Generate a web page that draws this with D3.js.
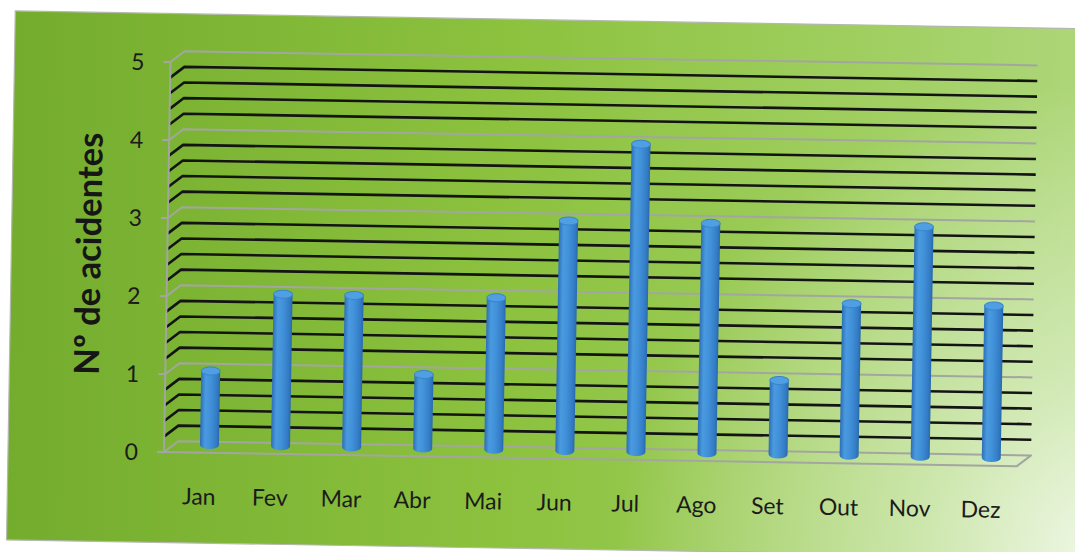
<!DOCTYPE html>
<html>
<head>
<meta charset="utf-8">
<script src="https://cdn.jsdelivr.net/npm/d3@7"></script>
<style>
  html, body { margin: 0; padding: 0; background: #ffffff; }
  svg { display: block; }
</style>
</head>
<body>
<svg id="chart" width="1075" height="552"></svg>
<script>
// Monthly accident counts
const months = ["Jan", "Fev", "Mar", "Abr", "Mai", "Jun", "Jul", "Ago", "Set", "Out", "Nov", "Dez"];
const accidents = [1, 2, 2, 1, 2, 3, 4, 3, 1, 2, 3, 2];
const yTicks = [0, 1, 2, 3, 4, 5];
const minorStep = 0.2;
const yTitle = "Nº de acidentes";

const svg = d3.select("#chart");
const defs = svg.append("defs");

// Panel fill: green, lightening to the right and bottom-right
const bgLin = defs.append("linearGradient").attr("id", "bgLin")
  .attr("x1", 0).attr("y1", 0).attr("x2", 1).attr("y2", 0);
[[0, "#74ac2e"], [0.45, "#8cc23e"], [0.8, "#a2d064"], [1, "#b0d87e"]]
  .forEach(([o, c]) => bgLin.append("stop").attr("offset", o).attr("stop-color", c));

const bgGlow = defs.append("radialGradient").attr("id", "bgGlow")
  .attr("cx", 1.0).attr("cy", 1.0).attr("r", 0.45)
  .attr("gradientTransform", "translate(1,1) scale(1,2.0) translate(-1,-1)");
[[0, "#ffffff", 0.85], [0.4, "#f4fbef", 0.5], [1, "#ffffff", 0]]
  .forEach(([o, c, a]) => bgGlow.append("stop").attr("offset", o).attr("stop-color", c).attr("stop-opacity", a));

// Cylinder shading
const barGrad = defs.append("linearGradient").attr("id", "barGrad")
  .attr("x1", 0).attr("y1", 0).attr("x2", 1).attr("y2", 0);
[[0, "#2d6fb6"], [0.25, "#4a9ae0"], [0.5, "#4292da"], [0.85, "#337cc5"], [1, "#2a68ab"]]
  .forEach(([o, c]) => barGrad.append("stop").attr("offset", o).attr("stop-color", c));

// Whole chart sits slightly tilted; origin at the front-left corner of the floor
const g = svg.append("g").attr("transform", "translate(164,452) rotate(0.95)");

// Chart panel
const panel = { x: -156, y: -438.5, w: 1110, h: 529 };
g.append("rect").attr("x", panel.x).attr("y", panel.y).attr("width", panel.w).attr("height", panel.h)
  .attr("fill", "url(#bgLin)");
g.append("rect").attr("x", panel.x).attr("y", panel.y).attr("width", panel.w).attr("height", panel.h)
  .attr("fill", "url(#bgGlow)").attr("stroke", "#b4b8ae").attr("stroke-width", 1.2);

// Scales
const floorW = 853;
const depth = { dx: 14, dy: -11 };
const x = d3.scaleBand().domain(months).range([0, floorW]);
const y = d3.scaleLinear().domain([0, 5]).range([0, -390]);

// Gridlines: minor (black) every 0.2, major (gray) at each integer
const minorVals = d3.range(0, 5 + 1e-9, minorStep)
  .map(v => Math.round(v * 10) / 10)
  .filter(v => !yTicks.includes(v));

const backRight = floorW + depth.dx;
const gridPath = v => {
  const yf = y(v);
  return `M0,${yf} L${depth.dx},${yf + depth.dy} L${backRight},${yf + depth.dy}`;
};

const grid = g.append("g").attr("fill", "none").attr("stroke-linejoin", "round");
grid.selectAll("path.minor").data(minorVals).join("path").attr("class", "minor")
  .attr("d", gridPath).attr("stroke", "#141414").attr("stroke-width", 2.6);
grid.selectAll("path.major").data(yTicks.filter(v => v > 0)).join("path").attr("class", "major")
  .attr("d", gridPath).attr("stroke", "#a3a6a0").attr("stroke-width", 2);

// Floor outline
grid.append("path")
  .attr("d", `M0,0 L${floorW},0 L${backRight},${depth.dy} L${depth.dx},${depth.dy} Z`)
  .attr("stroke", "#a3a6a0").attr("stroke-width", 2);

// Vertical axis line and tick marks
grid.append("line").attr("x1", 0).attr("x2", 0).attr("y1", y(0)).attr("y2", y(5))
  .attr("stroke", "#a3a6a0").attr("stroke-width", 2);
grid.selectAll("line.tick").data(yTicks).join("line").attr("class", "tick")
  .attr("x1", -7).attr("x2", 0).attr("y1", d => y(d)).attr("y2", d => y(d))
  .attr("stroke", "#a3a6a0").attr("stroke-width", 2);

// Cylinders (base sits inside the floor depth; the top cap is seen from slightly above)
const barW = 19, ry = 4;
const baseOff = { dx: 9.8, dy: -7.7 };
const capDrop = 4;
const bars = g.append("g").selectAll("g.bar").data(months.map((m, i) => ({ m, v: accidents[i] })))
  .join("g").attr("class", "bar");

bars.append("path")
  .attr("d", d => {
    const cx = x(d.m) + x.bandwidth() / 2 + baseOff.dx;
    const yb = baseOff.dy;
    const yt = baseOff.dy + y(d.v) + capDrop;
    const l = cx - barW / 2, r = cx + barW / 2;
    return `M${l},${yt} L${l},${yb} A${barW / 2},${ry} 0 0 0 ${r},${yb} L${r},${yt} Z`;
  })
  .attr("fill", "url(#barGrad)");

bars.append("ellipse")
  .attr("cx", d => x(d.m) + x.bandwidth() / 2 + baseOff.dx)
  .attr("cy", d => baseOff.dy + y(d.v) + capDrop)
  .attr("rx", barW / 2).attr("ry", ry)
  .attr("fill", "#519fe3").attr("stroke", "#3a84cc").attr("stroke-width", 1);

// Y tick labels
const font = "Lato, 'Open Sans', sans-serif";
g.append("g").selectAll("text").data(yTicks).join("text")
  .attr("x", -26).attr("y", d => y(d)).attr("dy", "0.36em")
  .attr("text-anchor", "end")
  .style("font-family", font).style("font-size", "23px").attr("fill", "#1b1b1b")
  .text(d => d);

// Category labels
g.append("g").selectAll("text").data(months).join("text")
  .attr("x", d => x(d) + x.bandwidth() / 2).attr("y", 52)
  .attr("text-anchor", "middle")
  .style("font-family", font).style("font-size", "23px").attr("fill", "#1b1b1b")
  .text(d => d);

// Axis title
const title = g.append("text")
  .attr("transform", "translate(-79,-197) rotate(-90)")
  .attr("text-anchor", "middle").attr("dy", "0.36em")
  .style("font-family", font).style("font-weight", "bold").style("font-size", "34px")
  .attr("fill", "#161616")
  .text(yTitle);
const tl = title.node().getComputedTextLength();
if (tl > 0) title.style("font-size", (34 * 242 / tl).toFixed(1) + "px");
</script>
</body>
</html>
